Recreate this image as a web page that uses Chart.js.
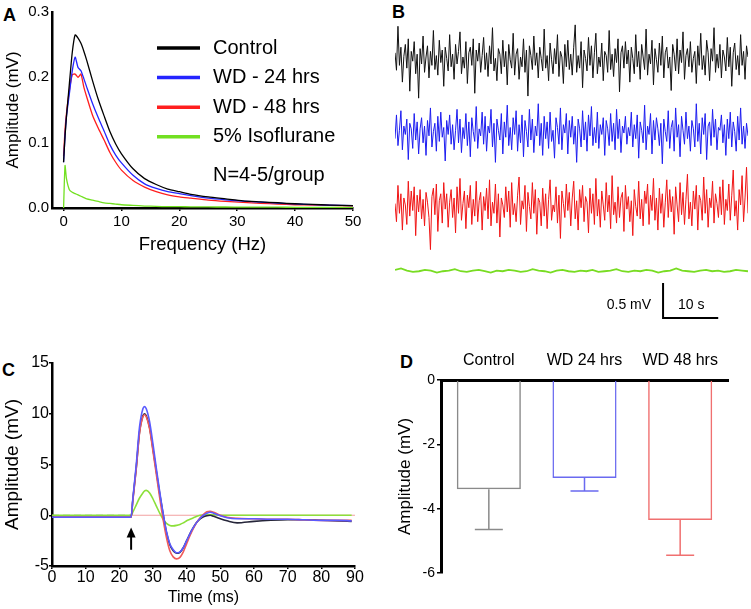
<!DOCTYPE html>
<html>
<head>
<meta charset="utf-8">
<script src="https://cdn.jsdelivr.net/npm/chart.js@4/dist/chart.umd.min.js"></script>
<style>
  body { margin: 0; background: #fff; width: 751px; height: 609px; position: relative; overflow: hidden;
         font-family: "Liberation Sans", Arial, sans-serif; }
  canvas { position: absolute; }
  .tag { position: absolute; font-weight: bold; font-size: 18px; line-height: 1; }
</style>
</head>
<body>
<div class="tag" style="left:3px;top:6px">A</div>
<div class="tag" style="left:392px;top:3px">B</div>
<div class="tag" style="left:2px;top:361px">C</div>
<div class="tag" style="left:400px;top:353px">D</div>

<canvas id="chartA" style="left:0;top:0" width="375" height="262"></canvas>
<canvas id="chartB" style="left:390px;top:15px" width="361" height="308"></canvas>
<canvas id="chartC" style="left:0;top:280px" width="375" height="329"></canvas>
<canvas id="chartD" style="left:380px;top:330px" width="371" height="279"></canvas>

<script>
// ---- panel A: amplitude spectra ----
const groupsA = ["Control", "WD - 24 hrs", "WD - 48 hrs", "5% Isoflurane"];
const sampleNote = "N=4-5/group";
const freqHz = [0, 0.25, 0.5, 1, 1.5, 2, 2.5, 3, 3.5, 4, 5, 6, 7, 8, 9, 10, 12, 14, 16, 18, 20, 22, 25, 28, 31, 34, 37, 40, 43, 46, 50];
const specControl = [0.07, 0.11, 0.14, 0.19, 0.238, 0.265, 0.26, 0.252, 0.24, 0.226, 0.195, 0.166, 0.141, 0.117, 0.098, 0.083, 0.06, 0.045, 0.036, 0.029, 0.025, 0.021, 0.017, 0.014, 0.011, 0.0095, 0.008, 0.0065, 0.0055, 0.0045, 0.0035];
const specWd24 = [0.07, 0.11, 0.14, 0.175, 0.21, 0.231, 0.215, 0.21, 0.198, 0.185, 0.16, 0.138, 0.118, 0.097, 0.081, 0.069, 0.05, 0.037, 0.03, 0.025, 0.022, 0.019, 0.015, 0.0125, 0.0105, 0.009, 0.0075, 0.0062, 0.0052, 0.0045, 0.0035];
const specWd48 = [0.08, 0.12, 0.145, 0.18, 0.204, 0.205, 0.2, 0.205, 0.185, 0.17, 0.142, 0.122, 0.104, 0.085, 0.07, 0.058, 0.042, 0.032, 0.025, 0.02, 0.017, 0.015, 0.012, 0.01, 0.0085, 0.0072, 0.006, 0.005, 0.0045, 0.004, 0.0032];
const specIso = [0.0, 0.065, 0.045, 0.028, 0.024, 0.022, 0.02, 0.018, 0.016, 0.014, 0.012, 0.01, 0.008, 0.007, 0.006, 0.005, 0.004, 0.003, 0.0025, 0.002, 0.002, 0.0018, 0.0016, 0.0015, 0.0014, 0.0013, 0.0012, 0.0011, 0.001, 0.001, 0.001];
const freqTicks = [0, 10, 20, 30, 40, 50];
const ampTicksA = [0, 0.1, 0.2, 0.3];

// ---- panel B: raw traces (mV), 64 s each ----
const traceSeconds = 64;
const traceOffsets = [0, -1.05, -2.1, -3.03];
const traceControl = [
  0.10,-0.15,0.48,-0.08,0.18,-0.32,0.05,0.22,-0.12,0.30,-0.45,0.12,-0.02,0.26,-0.20,0.08,-0.55,0.16,-0.06,0.34,
  -0.18,0.04,0.20,-0.26,0.12,-0.08,0.42,-0.14,0.06,-0.22,0.28,-0.04,0.14,-0.38,0.18,0.02,-0.16,0.36,-0.10,0.08,
  -0.28,0.22,-0.06,0.12,0.40,-0.20,0.04,-0.12,0.26,-0.34,0.10,0.18,-0.08,0.30,-0.48,0.14,-0.02,0.24,-0.18,0.06,
  0.32,-0.14,0.10,-0.24,0.20,-0.06,0.46,-0.16,0.02,-0.30,0.16,0.08,-0.20,0.28,-0.10,0.12,-0.36,0.22,0.00,-0.12,
  0.38,-0.22,0.08,0.16,-0.28,0.04,-0.10,0.30,-0.18,0.14,-0.52,0.20,0.06,-0.14,0.34,-0.08,0.10,-0.26,0.18,0.02,
  -0.16,0.44,-0.12,0.06,-0.30,0.24,0.00,-0.20,0.16,-0.06,0.36,-0.24,0.12,0.04,-0.34,0.22,-0.10,0.28,-0.14,0.08,
  -0.22,0.18,0.50,-0.18,0.06,-0.12,0.26,-0.40,0.14,0.02,-0.16,0.32,-0.08,0.20,-0.26,0.10,0.38,-0.20,0.04,-0.10,
  0.24,-0.30,0.12,0.06,-0.18,0.42,-0.14,0.08,-0.24,0.16,-0.04,0.30,-0.46,0.10,0.20,-0.12,0.26,-0.06,0.14,-0.32,
  0.18,0.02,-0.20,0.36,-0.10,0.12,-0.28,0.22,0.04,-0.14,0.44,-0.22,0.08,-0.06,0.28,-0.36,0.16,0.00,-0.18,0.24,
  -0.08,0.34,-0.26,0.10,0.18,-0.12,0.04,-0.44,0.22,0.08,-0.16,0.30,-0.20,0.14,-0.04,0.40,-0.28,0.06,0.16,-0.10,
  0.26,-0.18,0.02,0.12,-0.34,0.20,-0.08,0.38,-0.14,0.06,-0.22,0.28,0.10,-0.30,0.16,-0.02,0.46,-0.18,0.08,-0.12,
  0.22,-0.26,0.14,0.04,-0.16,0.32,-0.10,0.18,-0.38,0.10,0.24,-0.14,0.06,-0.22,0.36,-0.08,0.12,-0.28,0.20,0.04
];
const traceWd24 = [
  -0.08,0.26,-0.18,0.04,0.32,-0.24,0.10,-0.02,0.20,-0.38,0.14,0.06,-0.22,0.28,-0.10,0.16,-0.30,0.06,0.22,-0.14,
  0.10,-0.32,0.18,-0.04,0.36,-0.20,0.02,0.14,-0.26,0.24,-0.12,0.30,-0.06,0.08,-0.40,0.18,-0.02,0.26,-0.16,0.12,
  -0.24,0.04,0.34,-0.14,0.20,-0.28,0.08,-0.08,0.28,-0.18,0.16,-0.34,0.22,0.02,-0.12,0.38,-0.22,0.06,-0.04,0.30,
  -0.16,0.24,-0.26,0.10,0.00,0.34,-0.20,0.14,-0.42,0.20,0.04,-0.10,0.28,-0.30,0.16,-0.06,0.40,-0.18,0.08,-0.24,
  0.22,-0.02,0.32,-0.26,0.12,-0.14,0.26,-0.34,0.18,0.02,-0.20,0.34,-0.10,0.20,-0.28,0.10,-0.04,0.42,-0.18,0.14,
  -0.32,0.24,-0.08,0.16,-0.22,0.30,-0.12,0.04,-0.36,0.22,0.08,-0.16,0.36,-0.24,0.12,0.00,0.28,-0.30,0.18,-0.06,
  0.24,-0.16,0.10,-0.42,0.20,0.06,-0.20,0.32,-0.10,0.16,-0.26,0.26,-0.04,0.38,-0.18,0.08,-0.14,0.30,-0.22,0.12,
  -0.02,0.22,-0.32,0.18,0.06,-0.18,0.28,-0.12,0.14,-0.24,0.34,-0.08,0.20,-0.28,0.10,0.00,0.24,-0.16,0.08,-0.04,
  0.30,-0.20,0.12,-0.08,0.26,-0.36,0.16,0.04,-0.14,0.40,-0.24,0.10,-0.02,0.28,-0.30,0.18,-0.10,0.22,0.06,-0.18,
  0.14,-0.44,0.20,0.02,-0.12,0.32,-0.22,0.08,0.18,-0.26,0.36,-0.06,0.12,-0.34,0.24,0.04,-0.16,0.30,-0.08,0.10,
  -0.26,0.18,0.06,-0.20,0.42,-0.12,0.14,-0.30,0.22,-0.02,0.28,-0.38,0.10,0.16,-0.18,0.34,-0.06,0.20,-0.24,0.08,
  0.04,0.26,-0.14,0.12,-0.32,0.20,-0.08,0.30,-0.20,0.16,0.02,-0.26,0.24,-0.10,0.36,-0.16,0.10,-0.22,0.14,-0.04
];
const traceWd48 = [
  0.04,-0.22,0.30,-0.10,0.18,-0.34,0.12,0.02,-0.26,0.36,-0.14,0.22,-0.06,0.28,-0.42,0.16,-0.08,0.24,-0.18,0.10,
  -0.28,0.20,0.06,-0.16,-0.62,0.14,0.26,-0.12,0.32,-0.36,0.08,0.18,-0.24,0.34,-0.04,0.18,-0.30,0.06,0.24,-0.16,
  0.12,-0.38,0.28,-0.10,0.40,-0.20,0.04,0.22,-0.32,0.16,-0.02,0.30,-0.26,0.10,-0.14,0.36,-0.22,0.08,0.20,-0.34,
  0.14,-0.06,0.26,-0.18,0.38,-0.28,0.06,-0.10,0.32,-0.24,0.18,-0.44,0.12,0.02,-0.16,0.28,-0.08,0.22,-0.30,0.34,
  -0.12,0.04,-0.22,0.16,0.42,-0.26,0.08,-0.04,0.30,-0.36,0.20,0.00,-0.18,0.34,-0.10,0.24,-0.40,0.12,0.06,-0.28,
  0.26,-0.14,0.18,-0.32,0.10,0.38,-0.20,0.02,-0.08,0.28,-0.24,0.16,-0.46,0.22,0.04,-0.16,0.32,-0.06,0.20,-0.28,
  0.12,0.36,-0.18,0.08,-0.34,0.24,-0.02,0.30,-0.22,0.14,0.06,-0.38,0.26,-0.10,0.18,-0.26,0.40,-0.14,0.10,-0.30,
  0.22,0.02,-0.20,0.34,-0.08,0.16,-0.32,0.44,-0.12,0.06,-0.24,0.28,-0.16,0.12,0.20,-0.36,0.30,-0.04,0.14,-0.22,
  0.08,-0.42,0.24,0.00,-0.14,0.36,-0.18,0.10,-0.28,0.22,0.04,0.32,-0.26,0.16,-0.06,0.40,-0.20,0.12,-0.34,0.26,
  -0.10,0.18,-0.30,0.06,0.38,-0.16,0.24,-0.08,0.14,-0.40,0.28,0.02,-0.22,0.34,-0.12,0.20,-0.26,0.10,0.46,-0.18,
  0.06,-0.28,0.22,-0.04,0.30,-0.34,0.16,0.08,-0.20,0.42,-0.10,0.24,-0.30,0.12,-0.02,0.36,-0.24,0.18,0.04,-0.16,
  0.28,-0.12,0.38,-0.26,0.10,-0.06,0.32,-0.20,0.16,0.52,-0.14,0.08,-0.34,0.24,0.02,0.44,-0.22,0.12,0.56,-0.10
];
const traceIso = [
  0.02,0.04,0.01,-0.01,0.00,0.02,0.01,-0.02,0.00,0.01,0.03,0.00,-0.01,0.01,0.02,0.00,-0.02,0.01,0.00,0.02,
  0.01,-0.01,0.00,0.03,0.01,0.00,-0.02,0.01,0.02,0.00,-0.01,0.01,0.00,0.02,-0.01,0.00,0.01,0.03,0.00,-0.01,
  0.01,0.00,0.02,0.01,-0.02,0.00,0.01,0.04,0.01,0.00,-0.01,0.01,0.02,0.00,0.01,-0.01,0.00,0.02,0.01,0.00
];
const scaleBarStart = 48.6; // s
const scaleBarSec = 10;
const scaleBarMv = 0.5;

// ---- panel C: evoked responses ----
const timeMs = [0, 23.5, 24, 25, 26, 27, 27.5, 28, 29, 30, 31, 32, 33, 34, 35, 36, 37, 38, 39, 40, 41, 42, 43, 44, 45, 46, 47, 48, 50, 52, 55, 60, 65, 70, 75, 80, 85, 89];
const evokedControl = [-0.2, -0.2, 1.5, 4.6, 8.2, 9.8, 10.0, 9.8, 8.6, 6.5, 4.3, 2.1, 0.1, -1.7, -2.9, -3.5, -3.75, -3.65, -3.2, -2.5, -1.8, -1.2, -0.7, -0.35, -0.15, -0.05, 0.0, -0.1, -0.35, -0.55, -0.75, -0.6, -0.5, -0.45, -0.45, -0.5, -0.55, -0.6];
const evokedWd24 = [-0.2, -0.2, 1.6, 4.9, 8.7, 10.5, 10.7, 10.5, 9.2, 7.0, 4.6, 2.3, 0.2, -1.6, -2.8, -3.4, -3.7, -3.6, -3.2, -2.5, -1.8, -1.2, -0.7, -0.3, 0.0, 0.2, 0.3, 0.2, -0.05, -0.25, -0.35, -0.35, -0.4, -0.4, -0.45, -0.5, -0.5, -0.55];
const evokedWd48 = [-0.2, -0.2, 1.4, 4.5, 8.1, 9.7, 9.9, 9.7, 8.5, 6.3, 4.0, 1.7, -0.4, -2.2, -3.5, -4.1, -4.3, -4.15, -3.6, -2.8, -2.0, -1.3, -0.7, -0.25, 0.1, 0.35, 0.4, 0.3, 0.0, -0.2, -0.3, -0.35, -0.4, -0.4, -0.45, -0.5, -0.5, -0.5];
const evokedIso = [0, 0, 0.3, 1.0, 1.7, 2.2, 2.4, 2.45, 2.2, 1.6, 0.9, 0.2, -0.4, -0.8, -1.0, -1.05, -1.0, -0.9, -0.75, -0.55, -0.4, -0.25, -0.1, 0.0, 0.05, 0.05, 0.05, 0.05, 0, 0, 0, 0, 0, 0, 0, 0, 0, 0];
const timeTicks = [0, 10, 20, 30, 40, 50, 60, 70, 80, 90];
const ampTicksC = [-5, 0, 5, 10, 15];
const stimMs = 23.5; // arrow
const arrowTipMv = -1.2;
const arrowTailMv = -3.4;

// ---- panel D: mean amplitude ----
const groupsD = ["Control", "WD 24 hrs", "WD 48 hrs"];
const meanD = [-3.4, -3.05, -4.35];
const errLowD = [-4.65, -3.45, -5.45];
const ampTicksD = [0, -2, -4, -6];

const FONT = '"Liberation Sans", Arial, sans-serif';
Chart.defaults.font.family = FONT;
Chart.defaults.color = "#000";
Chart.defaults.animation = false;
Chart.defaults.events = [];
Chart.defaults.plugins.legend.display = false;
Chart.defaults.plugins.tooltip.enabled = false;

function fixTicks(list) {
    return function (scale) {
        scale.ticks = list.map(function (v) { return { value: v }; });
    };
}

// legend inside panel A
const legendAPlugin = {
    id: "legendA",
    afterDraw: function (chart) {
        const ctx = chart.ctx, area = chart.chartArea;
        ctx.save();
        ctx.font = "20px " + FONT;
        ctx.textBaseline = "middle";
        ctx.fillStyle = "#000";
        chart.data.datasets.forEach(function (ds, i) {
            const y = area.top + 36 + i * 29.6;
            ctx.strokeStyle = ds.borderColor;
            ctx.lineWidth = 3.5;
            ctx.beginPath();
            ctx.moveTo(area.left + 105, y);
            ctx.lineTo(area.left + 148, y);
            ctx.stroke();
            ctx.fillText(ds.label, area.left + 161, y);
        });
        ctx.fillText(sampleNote, area.left + 161, area.top + 163);
        ctx.restore();
    }
};

new Chart(document.getElementById("chartA"), {
    type: "line",
    data: {
        datasets: [specControl, specWd24, specWd48, specIso].map(function (vals, i) {
            return {
                label: groupsA[i],
                data: freqHz.map(function (f, k) { return { x: f, y: vals[k] }; }),
                borderColor: ["#000000", "#2424ff", "#ff1e1e", "#72e021"][i],
                borderWidth: 1.3,
                pointRadius: 0,
                tension: 0.2
            };
        })
    },
    options: {
        responsive: false,
        layout: { padding: { top: 7, right: 22, left: 0, bottom: 0 } },
        scales: {
            x: {
                type: "linear", min: -2, max: 50,
                afterBuildTicks: fixTicks(freqTicks),
                afterFit: function (s) { s.height = 54; },
                ticks: { font: { size: 15 }, padding: 2 },
                grid: { drawOnChartArea: false, drawTicks: true, tickLength: 3, color: "#000", lineWidth: 1.5 },
                border: { color: "#000", width: 2.5 },
                title: { display: true, text: "Frequency (Hz)", font: { size: 18.5 }, padding: { top: 0, bottom: 6 } }
            },
            y: {
                min: 0, max: 0.3,
                afterBuildTicks: fixTicks(ampTicksA),
                afterFit: function (s) { s.width = 52; },
                ticks: { font: { size: 15 }, padding: 3, callback: function (v) { return v.toFixed(1); } },
                grid: { drawOnChartArea: false, drawTicks: false },
                border: { color: "#000", width: 2.5 },
                title: { display: true, text: "Amplitude (mV)", font: { size: 17 }, padding: { top: 3, bottom: 0 } }
            }
        }
    },
    plugins: [legendAPlugin]
});

// scale bar for panel B
const scaleBarPlugin = {
    id: "scaleBar",
    afterDraw: function (chart) {
        const x = chart.scales.x, y = chart.scales.y, ctx = chart.ctx;
        const x0 = x.getPixelForValue(scaleBarStart);
        const x1 = x.getPixelForValue(scaleBarStart + scaleBarSec);
        const y0 = y.getPixelForValue(y.min);
        const y1 = y.getPixelForValue(y.min + scaleBarMv);
        ctx.save();
        ctx.strokeStyle = "#000";
        ctx.lineWidth = 2;
        ctx.beginPath();
        ctx.moveTo(x0, y1);
        ctx.lineTo(x0, y0);
        ctx.lineTo(x1, y0);
        ctx.stroke();
        ctx.font = "14px " + FONT;
        ctx.fillStyle = "#000";
        ctx.textBaseline = "middle";
        ctx.textAlign = "right";
        ctx.fillText(scaleBarMv + " mV", x0 - 12, y0 - 13);
        ctx.textAlign = "left";
        ctx.fillText(scaleBarSec + " s", x0 + 15, y0 - 13);
        ctx.restore();
    }
};

new Chart(document.getElementById("chartB"), {
    type: "line",
    data: {
        datasets: [traceControl, traceWd24, traceWd48, traceIso].map(function (vals, i) {
            const dt = traceSeconds / (vals.length - 1);
            return {
                data: vals.map(function (v, k) { return { x: k * dt, y: v + traceOffsets[i] }; }),
                borderColor: ["#111111", "#1c1cf0", "#f01414", "#78dc22"][i],
                borderWidth: i === 3 ? 1.8 : 1,
                pointRadius: 0
            };
        })
    },
    options: {
        responsive: false,
        layout: { padding: { top: 5, right: 3, left: 5, bottom: 5 } },
        scales: {
            x: { type: "linear", min: 0, max: traceSeconds, display: false },
            y: { min: -3.7, max: 0.57, display: false }
        }
    },
    plugins: [scaleBarPlugin]
});

// zero references and stimulus arrow for panel C
const stimPlugin = {
    id: "stim",
    beforeDatasetsDraw: function (chart) {
        const x = chart.scales.x, y = chart.scales.y, ctx = chart.ctx;
        const y0 = y.getPixelForValue(0);
        ctx.save();
        ctx.lineWidth = 1.2;
        ctx.strokeStyle = "#9a9a9a";
        ctx.setLineDash([7, 4]);
        ctx.beginPath();
        ctx.moveTo(x.getPixelForValue(0), y0);
        ctx.lineTo(x.getPixelForValue(stimMs), y0);
        ctx.stroke();
        ctx.setLineDash([]);
        ctx.strokeStyle = "#f2a0a0";
        ctx.beginPath();
        ctx.moveTo(x.getPixelForValue(stimMs), y0);
        ctx.lineTo(x.getPixelForValue(x.max), y0);
        ctx.stroke();
        ctx.restore();
    },
    afterDatasetsDraw: function (chart) {
        const x = chart.scales.x, y = chart.scales.y, ctx = chart.ctx;
        const ax = x.getPixelForValue(stimMs);
        const tip = y.getPixelForValue(arrowTipMv);
        const tail = y.getPixelForValue(arrowTailMv);
        ctx.save();
        ctx.strokeStyle = "#000";
        ctx.fillStyle = "#000";
        ctx.lineWidth = 2;
        ctx.beginPath();
        ctx.moveTo(ax, tail);
        ctx.lineTo(ax, tip + 8);
        ctx.stroke();
        ctx.beginPath();
        ctx.moveTo(ax, tip);
        ctx.lineTo(ax - 4.5, tip + 10);
        ctx.lineTo(ax + 4.5, tip + 10);
        ctx.closePath();
        ctx.fill();
        ctx.restore();
    }
};

new Chart(document.getElementById("chartC"), {
    type: "line",
    data: {
        datasets: [
            { vals: evokedWd24, color: "#5a5aff" },
            { vals: evokedWd48, color: "#f05a5a" },
            { vals: evokedControl, color: "#26263a" },
            { vals: evokedIso, color: "#8ce03a" }
        ].map(function (s) {
            return {
                data: timeMs.map(function (t, k) { return { x: t, y: s.vals[k] }; }),
                borderColor: s.color,
                borderWidth: 1.6,
                pointRadius: 0,
                cubicInterpolationMode: "monotone"
            };
        })
    },
    options: {
        responsive: false,
        layout: { padding: { top: 83, right: 20, left: 0, bottom: 0 } },
        scales: {
            x: {
                type: "linear", min: 0, max: 90,
                afterBuildTicks: fixTicks(timeTicks),
                afterFit: function (s) { s.height = 43; },
                ticks: { font: { size: 16 }, padding: -1 },
                grid: { drawOnChartArea: false, drawTicks: true, tickLength: 3, color: "#000", lineWidth: 1.5 },
                border: { color: "#000", width: 2.5 },
                title: { display: true, text: "Time (ms)", font: { size: 16 }, padding: { top: 0, bottom: 1.5 } }
            },
            y: {
                min: -5, max: 15,
                afterBuildTicks: fixTicks(ampTicksC),
                afterFit: function (s) { s.width = 52; },
                ticks: { font: { size: 16 }, padding: 0 },
                grid: { drawOnChartArea: false, drawTicks: true, tickLength: 3, color: "#000", lineWidth: 1.5 },
                border: { color: "#000", width: 2.5 },
                title: { display: true, text: "Amplitude (mV)", font: { size: 19 }, padding: { top: 1, bottom: 0 } }
            }
        }
    },
    plugins: [stimPlugin]
});

// error bars for panel D
const errorBarPlugin = {
    id: "errorBars",
    afterDatasetsDraw: function (chart) {
        const y = chart.scales.y, ctx = chart.ctx;
        const ds = chart.data.datasets[0];
        chart.getDatasetMeta(0).data.forEach(function (bar, i) {
            const top = y.getPixelForValue(meanD[i]);
            const end = y.getPixelForValue(errLowD[i]);
            ctx.save();
            ctx.strokeStyle = ds.borderColor[i];
            ctx.lineWidth = 1.5;
            ctx.beginPath();
            ctx.moveTo(bar.x, top);
            ctx.lineTo(bar.x, end);
            ctx.moveTo(bar.x - 14, end);
            ctx.lineTo(bar.x + 14, end);
            ctx.stroke();
            ctx.restore();
        });
    }
};

new Chart(document.getElementById("chartD"), {
    type: "bar",
    data: {
        labels: groupsD,
        datasets: [{
            data: meanD,
            backgroundColor: "rgba(255,255,255,0)",
            borderColor: ["#8a8a8a", "#6a6af0", "#f07070"],
            borderWidth: 1.5,
            barPercentage: 0.67,
            categoryPercentage: 1
        }]
    },
    options: {
        responsive: false,
        layout: { padding: { top: 0, right: 23, left: 0, bottom: 36 } },
        scales: {
            x: {
                position: "top",
                afterFit: function (s) { s.height = 50; },
                ticks: { font: { size: 16 }, padding: 10 },
                grid: { display: false, drawTicks: false },
                border: { color: "#000", width: 3 }
            },
            y: {
                min: -6, max: 0,
                afterBuildTicks: fixTicks(ampTicksD),
                afterFit: function (s) { s.width = 61; },
                ticks: { font: { size: 14 }, padding: 2 },
                grid: { drawOnChartArea: false, drawTicks: true, tickLength: 4, color: "#000", lineWidth: 1.5 },
                border: { color: "#000", width: 3 },
                title: { display: true, text: "Amplitude (mV)", font: { size: 17 }, padding: { top: 15, bottom: 0 } }
            }
        }
    },
    plugins: [errorBarPlugin]
});
</script>
</body>
</html>
